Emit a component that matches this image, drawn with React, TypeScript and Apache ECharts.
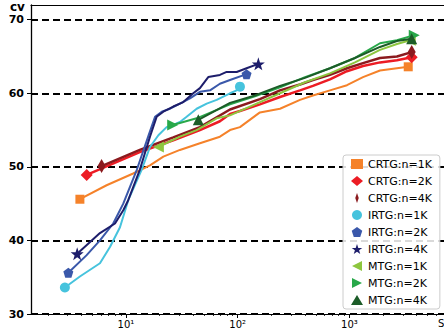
import React, { useEffect, useRef } from 'react';
import * as echarts from 'echarts';

const FONT = 'DejaVu Sans';

const seriesNames = [
  'CRTG:n=1K', 'CRTG:n=2K', 'CRTG:n=4K',
  'IRTG:n=1K', 'IRTG:n=2K', 'IRTG:n=4K',
  'MTG:n=1K', 'MTG:n=2K', 'MTG:n=4K',
];

const crtg1kX = [3.87, 6.71, 11.6, 16.4, 21.6, 30.4, 45.9, 69.3, 85.3, 104.7, 158, 239, 361, 471, 669, 950, 1322, 1876, 2661, 3357];
const crtg1kY = [45.6, 47.5, 49.1, 50.2, 51.4, 52.3, 53.2, 54.1, 55.0, 55.4, 57.4, 57.9, 59.1, 59.7, 60.4, 61.1, 62.2, 63.1, 63.4, 63.6];

const crtg2kX = [4.45, 13.3, 26.5, 45.9, 69.3, 85.3, 104.7, 158, 239, 361, 471, 669, 950, 1322, 1876, 2661, 3606];
const crtg2kY = [48.9, 52.0, 53.6, 55.0, 56.2, 57.2, 57.6, 58.5, 59.5, 60.4, 61.0, 61.9, 63.0, 63.7, 64.2, 64.5, 64.9];

const crtg4kX = [6.05, 13.3, 26.5, 45.9, 85.3, 158, 239, 361, 471, 669, 950, 1322, 1876, 2661, 3606];
const crtg4kY = [50.1, 52.3, 54.0, 55.4, 57.8, 59.2, 60.4, 61.2, 61.8, 62.5, 63.4, 64.1, 64.8, 65.0, 65.6];

const irtg1kX = [2.84, 3.87, 5.85, 7.19, 8.84, 10.5, 13.8, 16.4, 19.5, 23.1, 26.5, 30.4, 34.9, 42.9, 52.8, 64.8, 85.3, 97.9, 104.7];
const irtg1kY = [33.6, 35.1, 36.9, 39.1, 41.8, 45.5, 49.6, 52.7, 54.3, 55.4, 55.7, 56.1, 56.8, 57.9, 58.6, 59.1, 60.0, 60.4, 60.9];

const irtg2kX = [3.05, 4.45, 5.85, 7.69, 9.46, 12.5, 15.8, 18.2, 20.9, 24.8, 30.4, 37.4, 45.9, 56.5, 69.3, 85.3, 120];
const irtg2kY = [35.6, 38.0, 40.0, 42.3, 45.0, 49.6, 54.1, 56.8, 57.5, 57.9, 58.6, 59.3, 60.2, 60.4, 61.3, 61.8, 62.6];

const irtg4kX = [3.66, 5.85, 7.98, 9.46, 10.5, 13.3, 16.4, 18.8, 21.6, 26.5, 32.6, 40.0, 45.9, 54.5, 69.3, 79.6, 97.9, 120, 153];
const irtg4kY = [38.2, 41.0, 42.3, 44.1, 45.5, 49.6, 54.1, 56.8, 57.5, 58.2, 58.8, 60.0, 60.7, 62.2, 62.5, 62.9, 62.9, 63.4, 64.0];

const mtg1kX = [19.5, 30.4, 42.9, 64.8, 85.3, 142.6, 239, 400, 669, 1120, 1876, 2661, 3500];
const mtg1kY = [52.7, 54.1, 55.0, 56.6, 57.0, 58.5, 60.0, 61.5, 62.7, 64.2, 65.9, 66.7, 67.2];

const mtg2kX = [26.2, 42.9, 85.3, 142.6, 239, 400, 669, 1120, 1876, 2661, 3800];
const mtg2kY = [55.7, 56.6, 58.5, 59.6, 60.8, 62.2, 63.4, 64.8, 66.8, 67.2, 67.9];

const mtg4kX = [44.4, 85.3, 142.6, 239, 400, 669, 1120, 1876, 2661, 3606];
const mtg4kY = [56.4, 58.7, 59.7, 61.0, 62.1, 63.4, 64.8, 66.3, 67.1, 67.4];

const yTicks = [30, 40, 50, 60, 70];
const xMajorTicks = [10, 100, 1000];
const xMinorTicks = [2, 3, 4, 5, 6, 7, 8, 9, 20, 30, 40, 50, 60, 70, 80, 90, 200, 300, 400, 500, 600, 700, 800, 900, 2000, 3000, 4000, 5000, 6000, 7000];

const PENTAGON = 'path://M50,0 L97.6,34.5 L79.4,90.5 L20.6,90.5 L2.4,34.5 Z';
const STAR = 'path://M50,0 L61.8,35.3 L97.6,35.3 L69,57.3 L79.4,90.5 L50,70 L20.6,90.5 L31,57.3 L2.4,35.3 L38.2,35.3 Z';
const LEFT_TRI = 'path://M0,5 L10,0 L10,10 Z';
const RIGHT_TRI = 'path://M10,5 L0,0 L0,10 Z';
const THIN_DIAMOND = 'path://M5,0 L8.5,10 L5,20 L1.5,10 Z';

const styles = [
  { color: '#f5822a', symbol: 'rect', size: 9, icon: 'rect', width: 2 },
  { color: '#ec1c24', symbol: 'diamond', size: 12, icon: 'diamond', width: 2.5 },
  { color: '#8b1a1e', symbol: THIN_DIAMOND, size: [8, 14], icon: THIN_DIAMOND, width: 2.5 },
  { color: '#46c3dd', symbol: 'circle', size: 10, icon: 'circle', width: 2 },
  { color: '#3a58aa', symbol: PENTAGON, size: 10, icon: PENTAGON, width: 2 },
  { color: '#1d1d6b', symbol: STAR, size: 13, icon: STAR, width: 2 },
  { color: '#8dc63f', symbol: LEFT_TRI, size: 11, icon: LEFT_TRI, width: 2 },
  { color: '#28a84a', symbol: RIGHT_TRI, size: 11, icon: RIGHT_TRI, width: 2 },
  { color: '#1c5c28', symbol: 'triangle', size: 11, icon: 'triangle', width: 2 },
];

const xs = [crtg1kX, crtg2kX, crtg4kX, irtg1kX, irtg2kX, irtg4kX, mtg1kX, mtg2kX, mtg4kX];
const ys = [crtg1kY, crtg2kY, crtg4kY, irtg1kY, irtg2kY, irtg4kY, mtg1kY, mtg2kY, mtg4kY];

const SUP: Record<number, string> = { 0: '⁰', 1: '¹', 2: '²', 3: '³', 4: '⁴' };

export default function App() {
  const ref = useRef<HTMLDivElement>(null);
  useEffect(() => {
    document.body.style.margin = '0';
    if (!ref.current) return;
    const chart = echarts.init(ref.current, undefined, { renderer: 'svg' });
    const xMin = 1.413;
    const xMax = 7015;
    const series = seriesNames.map((name, i) => {
      const n = xs[i].length;
      const st = styles[i];
      return {
        name,
        type: 'line',
        xAxisIndex: 0,
        data: xs[i].map((x, j) => [x, ys[i][j]]),
        symbol: st.symbol,
        symbolSize: (_v: any, p: any) => (p.dataIndex === 0 || p.dataIndex === n - 1 ? st.size : 0),
        showSymbol: true,
        lineStyle: { color: st.color, width: st.width },
        itemStyle: { color: st.color },
        z: 3 + i,
      };
    });
    chart.setOption({
      animation: false,
      grid: { left: 31, top: 5, right: 0, bottom: 21 },
      xAxis: [
        {
          type: 'log', logBase: 10, min: xMin, max: xMax, position: 'bottom',
          axisLine: { show: true, onZero: false, lineStyle: { color: '#000', width: 1.2 } },
          axisTick: { show: true, customValues: xMajorTicks, length: 4, lineStyle: { color: '#000', width: 1 } },
          axisLabel: {
            customValues: xMajorTicks, color: '#000', fontSize: 10, fontFamily: FONT, margin: 5,
            formatter: (v: number) => '10' + SUP[Math.round(Math.log10(v))],
          },
          splitLine: { show: false },
          minorTick: { show: false },
        },
        {
          type: 'log', logBase: 10, min: xMin, max: xMax, position: 'bottom',
          axisLine: { show: false },
          axisTick: { show: true, customValues: xMinorTicks, length: 2, lineStyle: { color: '#000', width: 0.8 } },
          axisLabel: { show: false },
          splitLine: { show: false },
        },
        {
          type: 'log', logBase: 10, min: xMin, max: xMax, position: 'top',
          axisLine: { show: true, onZero: false, lineStyle: { color: '#000', width: 1.2 } },
          axisTick: { show: false },
          axisLabel: { show: false },
          splitLine: { show: false },
        },
      ],
      yAxis: {
        type: 'value', min: 30, max: 72,
        axisLine: { show: true, lineStyle: { color: '#000', width: 1.3 } },
        axisTick: { show: true, customValues: yTicks, length: 4, lineStyle: { color: '#000', width: 1 } },
        axisLabel: { customValues: yTicks, color: '#000', fontSize: 11, fontWeight: 'bold', fontFamily: FONT, margin: 7 },
        splitLine: { show: true, lineStyle: { type: [7, 4], color: '#000', width: 1.8 } },
      },
      legend: {
        orient: 'vertical',
        left: 343,
        top: 155,
        padding: [3, 8, 3, 8],
        itemWidth: 12,
        itemHeight: 10,
        itemGap: 5,
        backgroundColor: 'rgba(255,255,255,0.85)',
        borderColor: '#cccccc',
        borderWidth: 1,
        borderRadius: 3,
        textStyle: { fontSize: 11, color: '#000', fontFamily: FONT, lineHeight: 12 },
        data: seriesNames.map((name, i) => ({ name, icon: styles[i].icon, itemStyle: { color: styles[i].color } })),
      },
      graphic: [
        { type: 'text', left: 10, top: 1, style: { text: 'cv', font: `bold 12px "${FONT}"`, fill: '#000' } },
        { type: 'text', left: 438, top: 318, style: { text: 'S', font: `10px "${FONT}"`, fill: '#000' } },
      ],
      series,
    });
    return () => chart.dispose();
  }, []);
  return <div ref={ref} style={{ width: 444, height: 335 }} />;
}
